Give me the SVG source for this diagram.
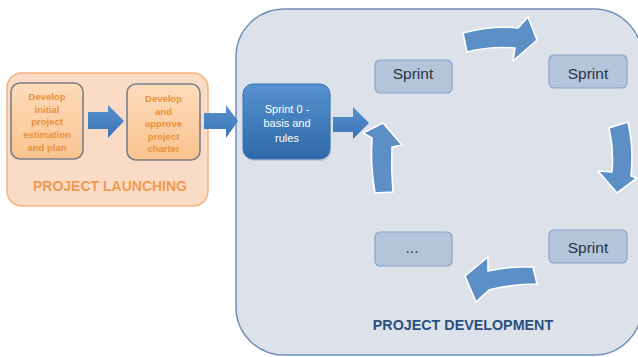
<svg xmlns="http://www.w3.org/2000/svg" width="638" height="357" viewBox="0 0 638 357">
<defs>
<linearGradient id="gOr" x1="0" y1="0" x2="0" y2="1"><stop offset="0" stop-color="#fddcbc"/><stop offset="1" stop-color="#f9c38e"/></linearGradient>
<linearGradient id="gBl" x1="0" y1="0" x2="0" y2="1"><stop offset="0" stop-color="#5692d1"/><stop offset="1" stop-color="#2f69a7"/></linearGradient>
<linearGradient id="gAr" x1="0" y1="0" x2="0" y2="1"><stop offset="0" stop-color="#5791cf"/><stop offset="1" stop-color="#3b74b4"/></linearGradient>
</defs>
<style>
.lbox{fill:url(#gOr);stroke:#7b7f87;stroke-width:1.6}
.ltxt{font-family:"Liberation Sans",Arial,sans-serif;font-weight:bold;font-size:9.5px;fill:#e8913a;text-anchor:middle}
.sbox{fill:#b4c4da;stroke:#86a3c9;stroke-width:1.2}
.stxt{font-family:"Liberation Sans",Arial,sans-serif;font-size:15.5px;fill:#2b3340;text-anchor:middle}
.sarr{fill:url(#gAr)}
.carr{fill:#5b8fc6;stroke:#ffffff;stroke-width:1.6;stroke-linejoin:round}
.title{font-family:"Liberation Sans",Arial,sans-serif;font-weight:bold;text-anchor:middle}
</style>
<g id="project-launching">
<rect x="7" y="73" width="201" height="133" rx="15" fill="#fadcc6" stroke="#f6b27c" stroke-width="1.5"/>
<text class="title" x="110" y="191" font-size="14.5" fill="#f09a52" textLength="154" lengthAdjust="spacingAndGlyphs">PROJECT LAUNCHING</text>
</g>
<g id="project-development">
<rect x="236" y="9" width="406" height="346" rx="48" fill="#dde2ea" stroke="#6f8fb8" stroke-width="1.5"/>
<text class="title" x="463" y="330" font-size="14.3" fill="#2a4f80">PROJECT DEVELOPMENT</text>
</g>
<g id="develop-estimation">
<rect class="lbox" x="11" y="83" width="72" height="76" rx="9"/>
<text class="ltxt" x="47" y="100">Develop</text>
<text class="ltxt" x="47" y="112.6">initial</text>
<text class="ltxt" x="47" y="125.3">project</text>
<text class="ltxt" x="47" y="138">estimation</text>
<text class="ltxt" x="47" y="150.6">and plan</text>
</g>
<g id="develop-charter">
<rect class="lbox" x="127" y="84" width="73" height="76" rx="9"/>
<text class="ltxt" x="163.5" y="102">Develop</text>
<text class="ltxt" x="163.5" y="114.5">and</text>
<text class="ltxt" x="163.5" y="127">approve</text>
<text class="ltxt" x="163.5" y="139.5">project</text>
<text class="ltxt" x="163.5" y="152">charter</text>
</g>
<g id="sprint0">
<rect x="244" y="86" width="87" height="75" rx="10" fill="#8a99ad" opacity="0.35"/>
<rect x="243" y="84" width="87" height="75" rx="10" fill="url(#gBl)" stroke="#3d73b0" stroke-width="1"/>
<g font-family="Liberation Sans,Arial,sans-serif" font-size="11" fill="#ffffff" text-anchor="middle">
<text x="287" y="113">Sprint 0 -</text>
<text x="287" y="127">basis and</text>
<text x="287" y="142">rules</text>
</g>
</g>
<g id="sprint-a"><rect class="sbox" x="375" y="60" width="77" height="33" rx="5"/><text class="stxt" x="413" y="78.5">Sprint</text></g>
<g id="sprint-b"><rect class="sbox" x="549" y="55" width="78" height="33" rx="5"/><text class="stxt" x="588" y="78.5">Sprint</text></g>
<g id="sprint-c"><rect class="sbox" x="549" y="230" width="78" height="33" rx="5"/><text class="stxt" x="588" y="252.5">Sprint</text></g>
<g id="sprint-more"><rect class="sbox" x="375" y="232" width="77" height="34" rx="5"/><text class="stxt" x="412" y="253" font-size="12">...</text></g>
<g id="connectors">
<polygon class="sarr" points="88,112 108,112 108,105 124,121 108,138 108,129 88,129"/>
<polygon class="sarr" points="204,113 226,113 226,105 238,121 226,138 226,129 204,129"/>
<polygon class="sarr" points="333,117 353,117 353,107 369,123 353,139 353,132 333,132"/>
<path class="carr" d="M463,33 Q492,25 518,28 L528,17 L537,40 L513,61 L515,48 Q490,46 467,52 Z"/>
<path class="carr" d="M609,128 Q614,150 612,172 L598,171 L617,193 L637,178 L631,176 Q634,148 628,122 Z"/>
<path class="carr" d="M533,267 Q508,266 488,271 L488,257 L465,276 L476,302 L489,290 Q512,284 537,284 Z"/>
<path class="carr" d="M375,193 Q370,165 372,138 L363,133 L383,123 L402,145 L392,147 Q391,170 393,192 Z"/>
</g>
</svg>
